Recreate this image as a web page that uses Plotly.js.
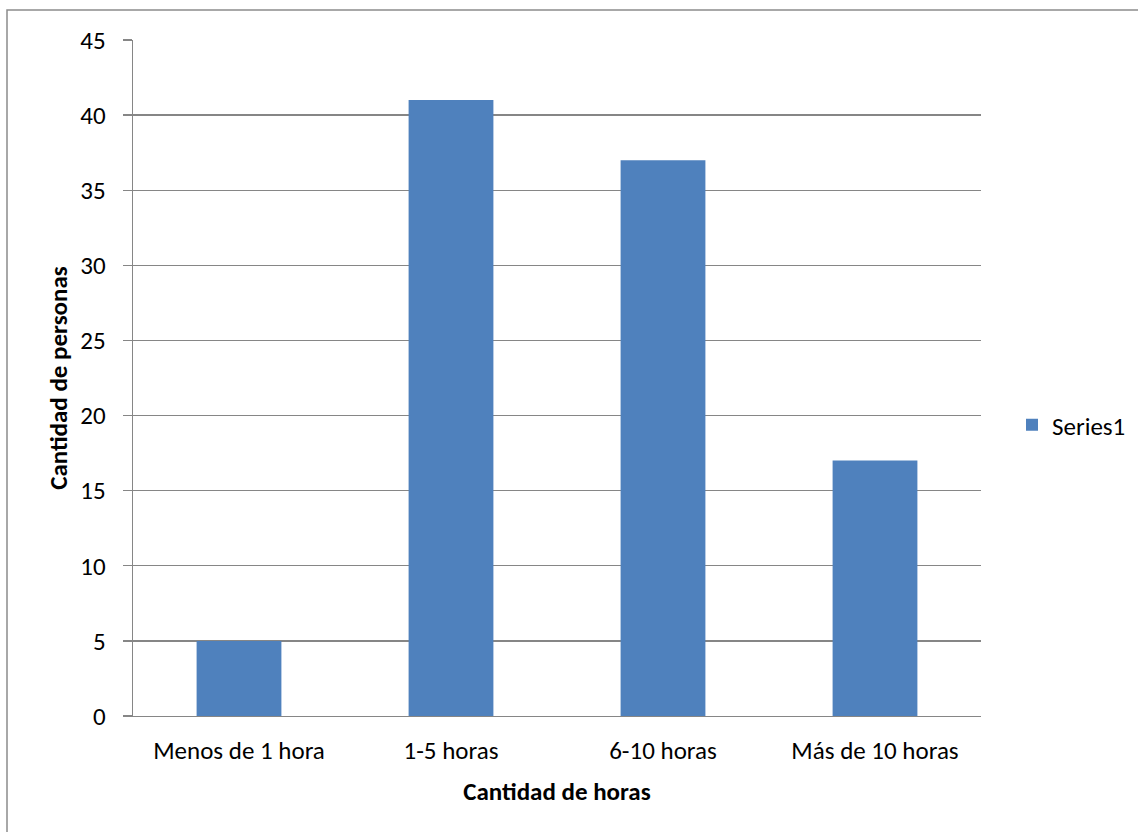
<!DOCTYPE html>
<html>
<head>
<meta charset="utf-8">
<script src="https://cdn.plot.ly/plotly-3.0.1.min.js"></script>
<style>html,body{margin:0;padding:0;background:#fff;}</style>
</head>
<body>
<div id="chart" style="width:1138px;height:832px;"></div>
<script>
const categories = ["Menos de 1 hora", "1-5 horas", "6-10 horas", "Más de 10 horas"];
const series1 = [5, 41, 37, 17];
const yTicks = [0, 5, 10, 15, 20, 25, 30, 35, 40, 45];

const W = 1138, H = 832, L = 133, R = 157, T = 40, B = 116;
const pw = W - L - R, ph = H - T - B;
const px = v => (v - L) / pw;
const py = v => (H - B - v) / ph;

const font = "Carlito, Calibri, Lato, 'Open Sans', sans-serif";
const gridColor = "#868686";
const fs = 25;

Plotly.newPlot("chart", [{
  type: "bar",
  name: "Series1",
  x: categories,
  y: series1,
  marker: {color: "#4F81BD"},
  showlegend: true
}], {
  width: W, height: H,
  margin: {l: L, r: R, t: T, b: B, pad: 0, autoexpand: false},
  paper_bgcolor: "#fff", plot_bgcolor: "#fff",
  font: {family: font, size: fs, color: "#000"},
  bargap: 0.6,
  showlegend: true,
  legend: {x: px(1012), y: py(425), yanchor: "middle", xanchor: "left",
           font: {family: font, size: fs, color: "#000"}, itemwidth: 30},
  xaxis: {
    type: "category",
    showline: true, linecolor: gridColor, linewidth: 1.3,
    ticks: "", showgrid: false, zeroline: false,
    ticklabelstandoff: 12,
    tickfont: {family: font, size: fs},
    title: {text: "<b>Cantidad de horas</b>", font: {family: font, size: fs}, standoff: 17}
  },
  yaxis: {
    range: [0, 45],
    tickvals: yTicks,
    showline: true, linecolor: gridColor, linewidth: 1.3,
    ticks: "outside", ticklen: 9, tickcolor: gridColor, tickwidth: 1.3,
    showgrid: true, gridcolor: gridColor, gridwidth: 1.3,
    zeroline: false,
    ticklabelstandoff: 12,
    tickfont: {family: font, size: fs},
    title: {text: "<b>Cantidad de personas</b>", font: {family: font, size: fs}, standoff: 5}
  },
  shapes: [{
    type: "rect", xref: "paper", yref: "paper",
    x0: px(7), x1: px(1150), y0: py(845), y1: py(10),
    line: {color: "#8c8c8c", width: 1.5}, fillcolor: "rgba(0,0,0,0)", layer: "below"
  }]
}, {displayModeBar: false, staticPlot: true});
</script>
</body>
</html>
